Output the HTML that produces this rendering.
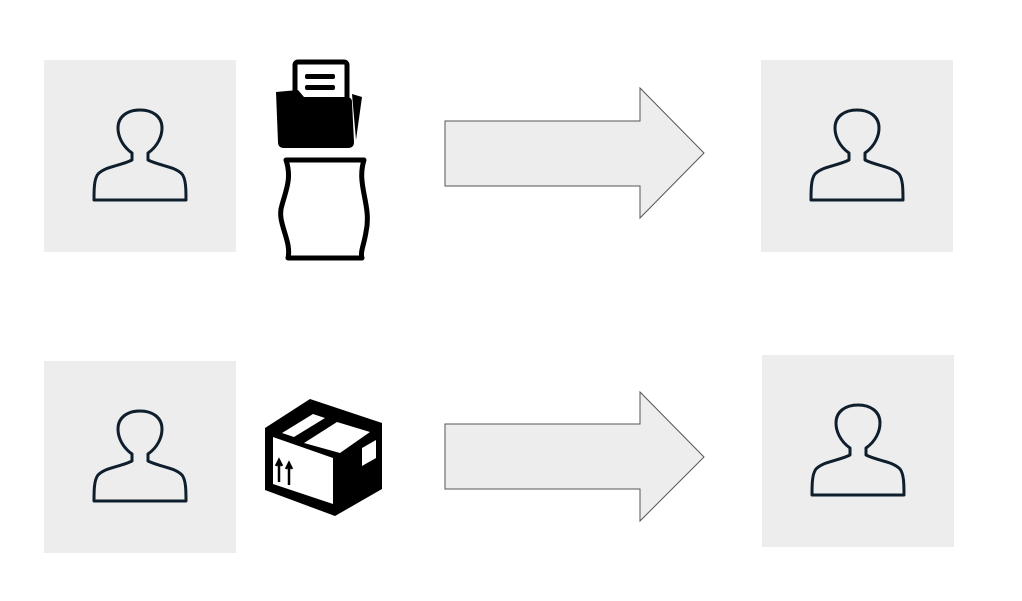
<!DOCTYPE html>
<html><head><style>body{margin:0;background:#fff}svg{display:block}</style></head><body>
<svg width="1022" height="601" viewBox="0 0 1022 601" xmlns="http://www.w3.org/2000/svg">
<defs>
<g id="person">
<path d="M-8,8 L-8,1 C-18,-6 -22,-16 -22,-24 C-22,-36 -12,-42 0,-42 C12,-42 22,-36 22,-24 C22,-16 18,-6 8,1 L8,8 C20,14 34,14 42,22 C46,27 46,38 46,48 L-46,48 C-46,38 -46,27 -42,22 C-34,14 -20,14 -8,8 Z" fill="none" stroke="#0f1e2d" stroke-width="3" stroke-linejoin="round"/>
</g>
</defs>
<g><rect x="44" y="60" width="192" height="192" fill="#ededed"/><use href="#person" transform="translate(140,152)"/></g>
<g><rect x="761" y="60" width="192" height="192" fill="#ededed"/><use href="#person" transform="translate(857,152)"/></g>
<g><rect x="44" y="361" width="192" height="192" fill="#ededed"/><use href="#person" transform="translate(140,453)"/></g>
<g><rect x="762" y="355" width="192" height="192" fill="#ededed"/><use href="#person" transform="translate(858,447)"/></g>
<path d="M445,121 L640,121 L640,88 L704,153 L640,218 L640,186 L445,186 Z" fill="#ededed" stroke="#555" stroke-width="1"/>
<path d="M445,424 L640,424 L640,392 L704,457 L640,521 L640,489 L445,489 Z" fill="#ededed" stroke="#555" stroke-width="1"/>
<g>
<rect x="295" y="62" width="52" height="50" rx="3" fill="#fff" stroke="#000" stroke-width="5"/>
<rect x="305" y="74" width="30" height="5" rx="2" fill="#000"/>
<rect x="305" y="85" width="30" height="5" rx="2" fill="#000"/>
<path d="M352,94 L362,97 L356,140 Z" fill="#000"/>
<path d="M276,92 L298,90 L304,97 L346,97 Q352,97 352,102 L354,142 Q354,148 348,148 L284,148 Q278,148 278,142 Z" fill="#000"/>
<path d="M286,160 L364,160 C356,185 372,205 366,232 C364,245 360,252 362,258 L288,258 C292,240 276,222 282,205 C286,190 292,178 286,160 Z" fill="#fff" stroke="#000" stroke-width="5" stroke-linejoin="round"/>
</g>
<g>
<path d="M265,428 L310,399 L382,423 L382,489 L335,516 L265,490 Z" fill="#000"/>
<path d="M273,437 L333,458 L333,504 L273,484 Z" fill="#fff"/>
<path d="M282,433 L313,414 L325,418 L294,437 Z" fill="#fff"/>
<path d="M304,443 L337,422 L370,432 L340,453 Z" fill="#fff"/>
<path d="M362,448 L376,440 L376,458 L362,466 Z" fill="#fff"/>
<path d="M279,462 L279,482 M276,466 L279,460 L282,466 M289,465 L289,485 M286,469 L289,463 L292,469" stroke="#000" stroke-width="2.5" fill="none"/>
</g>
</svg>
</body></html>
